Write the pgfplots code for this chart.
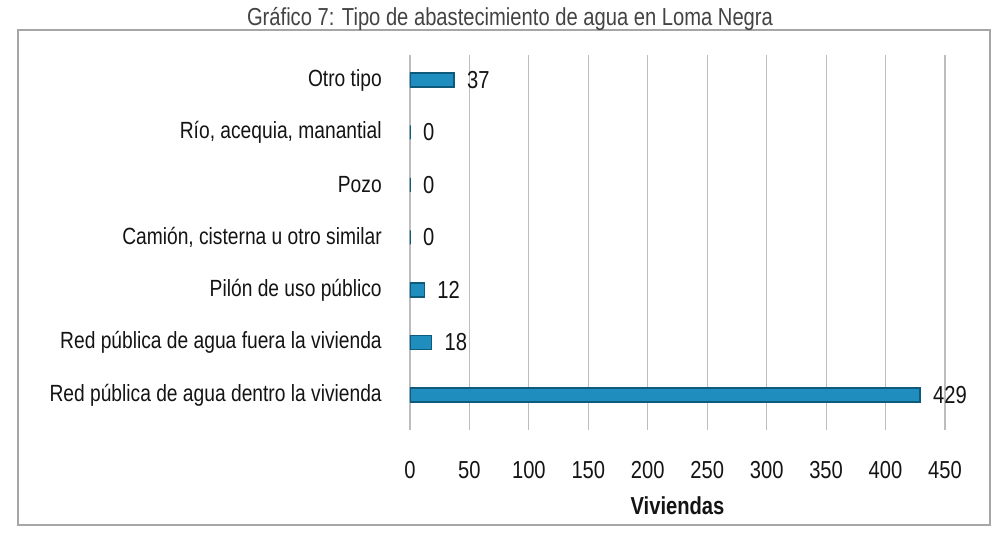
\documentclass[border=0pt]{standalone}
\usepackage{fontspec}
\setmainfont[FakeStretch=0.82]{Liberation Sans}
\usepackage{pgfplots}
\pgfplotsset{compat=1.18}
\definecolor{barblue}{HTML}{1F8EBF}
\definecolor{baredge}{HTML}{0E5A7C}
\definecolor{gridgray}{HTML}{BDBDBD}
\definecolor{txt}{HTML}{141414}

\begin{document}
\begin{tikzpicture}
\useasboundingbox (0,0) rectangle (15,-7.995);
\draw[gray!70, line width=0.6pt] (0.27,-0.45) rectangle (14.85,-7.875);
\node[anchor=north, font=\fontsize{10.5}{12}\selectfont, text=txt!80] at (7.65,0.02)
  {Gráfico 7: Tipo de abastecimiento de agua en Loma Negra};
\begin{axis}[
    at={(6.15cm,-6.45cm)}, anchor=south west,
    scale only axis,
    width=8.025cm, height=5.625cm,
    xbar,
    bar width=0.21cm,
    xmin=0, xmax=450,
    ymin=-0.667, ymax=6.476,
    xtick={0,50,...,450},
    ytick={0,...,6},
    yticklabels={Red pública de agua dentro la vivienda,
                 Red pública de agua fuera la vivienda,
                 Pilón de uso público,
                 {Camión, cisterna u otro similar},
                 Pozo,
                 {Río, acequia, manantial},
                 Otro tipo},
    axis line style={draw=none},
    major tick length=0pt,
    xmajorgrids,
    grid style={gridgray, line width=0.45pt},
    tick label style={font=\fontsize{10}{12}\selectfont, text=txt},
    xticklabel style={font=\fontsize{10.5}{12}\selectfont, yshift=-0.35cm},
    /pgf/number format/assume math mode=true,
    yticklabel style={xshift=-0.3cm},
    xlabel={\textbf{Viviendas}},
    xlabel style={font=\fontsize{10.5}{12}\selectfont, text=txt, yshift=-0.02cm},
    nodes near coords,
    nodes near coords style={font=\fontsize{10.5}{12}\selectfont, text=txt, anchor=west, xshift=2pt},
    point meta=explicit symbolic,
]
\addplot[fill=barblue, draw=baredge, line width=0.6pt] table[meta=v] {
x y v
429 0 429
18 1 18
12 2 12
0 3 0
0 4 0
0 5 0
37 6 37
};
\end{axis}
\end{tikzpicture}
\end{document}
